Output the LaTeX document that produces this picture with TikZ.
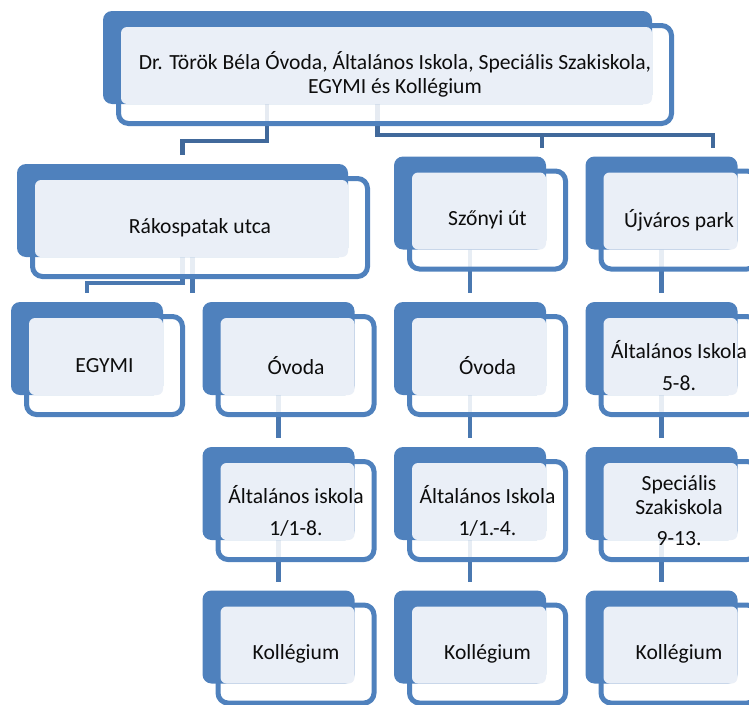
\documentclass[tikz,border=0pt]{standalone}
\usepackage{fontspec}
\setmainfont{Carlito}
\usetikzlibrary{calc,backgrounds}
\definecolor{boxblue}{HTML}{4F81BD}
\definecolor{paleblue}{HTML}{EAEFF7}
\definecolor{linkblue}{HTML}{4A78B0}
\definecolor{toplink}{HTML}{41699B}
\tikzset{
  frame/.style={draw=boxblue,line width=5pt,fill=white,fill opacity=.87,rounded corners=10pt,
    inner sep=0pt,outer sep=0pt,minimum width=156pt,minimum height=98pt},
  backbox/.style={fill=boxblue,rounded corners=9pt},
  frontbox/.style={fill=paleblue,rounded corners=6pt},
  boxtext/.style={align=center,inner sep=0pt,text=black!95,font=\fontsize{21.6}{24}\selectfont},
  link/.style={draw=linkblue,line width=4.5pt},
  toplinks/.style={draw=toplink,line width=4.5pt}
}
% frame node, blue back plate, pale front plate, text
\newcommand{\orgbox}[4][]{%
  \node[frame,#1] (#2) at (#3) {};
  \fill[backbox] ($(#2.north west)+(-15.5pt,14.5pt)$) rectangle ($(#2.south east)+(-19.5pt,19.5pt)$);
  \fill[frontbox] ($(#2.north west)+(2.5pt,-1.5pt)$) rectangle ($(#2.south east)+(-19.5pt,19.5pt)$);
  \node[boxtext] (#2-text) at (#2.center) {#4};
  \coordinate (#2-down) at ($(#2.center)+(-17.5pt,17pt)$);
  \coordinate (#2-up) at ($(#2.north)+(-17.5pt,23.5pt)$);
}
\begin{document}
\begin{tikzpicture}[x=1pt,y=-1pt]
\useasboundingbox (0,0) rectangle (749,704);
\clip (0,0) rectangle (749,704);

\orgbox[minimum width=553pt]{top}{395,74.5}{Dr. Török Béla Óvoda, Általános Iskola, Speciális Szakiskola,\\EGYMI és Kollégium}

\orgbox[minimum width=335pt]{rako}{200,227.5}{Rákospatak utca}
\orgbox{szonyi}{487.5,220}{Szőnyi út}
\orgbox{ujvaros}{679,220}{Újváros park}

\orgbox{egymi}{104.5,365.5}{EGYMI}
\orgbox{ovodaR}{296,365.5}{Óvoda}
\orgbox{ovodaS}{487.5,365.5}{Óvoda}
\orgbox{altisU}{679,365.5}{Általános Iskola\\[8pt]5-8.}

\orgbox{altisR}{296,510.5}{Általános iskola\\[8pt]1/1-8.}
\orgbox{altisS}{487.5,510.5}{Általános Iskola\\[8pt]1/1.-4.}
\orgbox{szakU}{679,510.5}{Speciális\\Szakiskola\\[7pt]9-13.}

\orgbox{kollR}{296,654}{Kollégium}
\orgbox{kollS}{487.5,654}{Kollégium}
\orgbox{kollU}{679,654}{Kollégium}

\coordinate (rako-bend) at (182.5,141);
\coordinate (fork-s) at (542,135);
\coordinate (fork-u) at (713,135);
\coordinate (egymi-bend) at (87,283);

\begin{pgfonlayer}{background}
\draw[toplinks] ($(top-down)+(-110.5pt,0)$) |- (rako-bend) -- (rako-up);
\draw[toplinks] (top-down) |- (fork-u) -- (fork-u |- ujvaros-up);
\draw[toplinks] (fork-s) -- (fork-s |- szonyi-up);
\draw[link] (rako-down) |- (egymi-bend) -- (egymi-up);
\draw[link] ($(rako-down)+(10pt,0)$) -- ($(rako-down |- ovodaR-up)+(10pt,0)$);
\draw[link] (szonyi-down) -- (ovodaS-up);
\draw[link] (ujvaros-down) -- (altisU-up);
\draw[link] (ovodaR-down) -- (altisR-up);
\draw[link] (ovodaS-down) -- (altisS-up);
\draw[link] (altisU-down) -- (szakU-up);
\draw[link] (altisR-down) -- (kollR-up);
\draw[link] (altisS-down) -- (kollS-up);
\draw[link] (szakU-down) -- (kollU-up);
\end{pgfonlayer}
\end{tikzpicture}
\end{document}
